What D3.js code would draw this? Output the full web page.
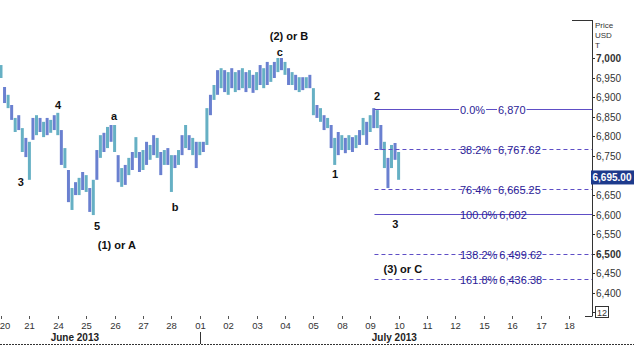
<!DOCTYPE html>
<html>
<head>
<meta charset="utf-8">
<script src="https://cdn.jsdelivr.net/npm/d3@7"></script>
<style>
  body { margin: 0; background: #fff; }
  svg { display: block; font-family: "Liberation Sans", Arial, sans-serif; }
</style>
</head>
<body>
<div id="chart"></div>
<script>
// trading days on the x axis
var dayLabels = ["20","21","24","25","26","27","28","01","02","03","04","05","08","09","10","11","12","15","16","17","18"];
var months = [["June 2013", 2.6], ["July 2013", 13.85]];

// intraday bars, 8 per trading day (high / low)
var barHigh = [6982,6926,6906,6880,6847,6854,6821,6796,6786,6847,6854,6847,6837,6847,6842,6854,
  6860,6816,6770,6714,6668,6683,6694,6709,6701,6668,6689,6765,6803,6809,6824,6829,
  6829,6752,6719,6727,6745,6760,6798,6760,6765,6786,6778,6803,6796,6760,6765,6770,
  6752,6752,6765,6803,6829,6803,6796,6786,6786,6786,6872,6906,6931,6969,6974,6969,
  6964,6974,6964,6969,6974,6964,6969,6957,6964,6982,6974,6990,6982,6990,7000,7000,
  6990,6974,6964,6957,6951,6951,6951,6957,6923,6880,6872,6854,6847,6829,6796,6811,
  6803,6796,6803,6798,6803,6816,6847,6837,6854,6872,6867,6829,6786,6745,6778,6783,6760];
var barLow = [6949,6885,6872,6842,6811,6816,6760,6747,6689,6791,6803,6811,6798,6803,6809,6816,
  6803,6727,6719,6632,6612,6650,6650,6663,6658,6607,6599,6689,6745,6760,6770,6786,
  6760,6683,6671,6676,6701,6714,6745,6709,6714,6727,6740,6752,6745,6701,6727,6727,
  6658,6719,6727,6752,6770,6765,6752,6719,6752,6760,6778,6854,6893,6906,6923,6913,
  6906,6923,6913,6918,6923,6913,6923,6911,6918,6931,6923,6931,6939,6949,6964,6969,
  6957,6931,6931,6918,6913,6918,6923,6923,6854,6847,6837,6816,6821,6770,6727,6752,
  6765,6757,6765,6760,6770,6778,6803,6778,6811,6821,6821,6765,6719,6668,6719,6740,6689];
var lastPrice = 6695.00;

// fibonacci levels
var fibPct = ["0.0%","38.2%","76.4%","100.0%","138.2%","161.8%"];
var fibVal = [6870, 6767.62, 6665.25, 6602, 6499.62, 6436.38];
var fibSolid = [true, false, false, true, false, false];

// elliott wave labels: text, day position, price position
var waveLabels = [["3",0.70,6683],["4",2.01,6879],["5",3.38,6571],["(1) or A",4.08,6523],
  ["a",3.98,6851],["b",6.13,6619],["c",9.82,7015],["(2) or B",10.14,7055],
  ["1",11.76,6703],["2",13.24,6903],["3",13.88,6576],["(3) or C",14.15,6461]];

// 6,700 sits under the last price box
var yTicks = d3.range(6400, 7001, 50).filter(v => v !== 6700);

var W = 634, H = 345;
var svg = d3.select("#chart").append("svg").attr("width", W).attr("height", H);

var x = d3.scaleLinear().domain([0, 20]).range([1, 569]);
var y = d3.scaleLinear().domain([6400, 7000]).range([293, 58]);
var axisX = 592;
var purple = "#5e4ec6";
var fibText = "#2c1c96";

// bars
svg.append("g").selectAll("line.bar")
  .data(barHigh)
  .join("line")
  .attr("class", "bar")
  .attr("x1", (d, i) => x(i / 8)).attr("x2", (d, i) => x(i / 8))
  .attr("y1", d => y(d)).attr("y2", (d, i) => y(barLow[i]))
  .attr("stroke", (d, i) => i % 2 ? "#6a80d0" : "#66b0c4")
  .attr("stroke-width", 3);

// fib lines
var fx0 = x(13.15);
var fib = svg.append("g");
fibVal.forEach(function (v, i) {
  var yy = Math.round(y(v)) + 0.5;
  fib.append("line")
    .attr("x1", fx0).attr("x2", axisX).attr("y1", yy).attr("y2", yy)
    .attr("stroke", purple).attr("stroke-width", 1)
    .attr("stroke-dasharray", fibSolid[i] ? null : "4,3");
  var t1 = fib.append("text").attr("x", 460).attr("y", yy + 4)
    .attr("font-size", 11).attr("fill", fibText).text(fibPct[i]);
  var w1 = t1.node().getComputedTextLength();
  var vx = Math.max(498, 460 + w1 + 2);
  var t2 = fib.append("text").attr("x", vx).attr("y", yy + 4)
    .attr("font-size", 11).attr("fill", fibText).text(d3.format(",")(v));
  var w2 = t2.node().getComputedTextLength();
  fib.insert("rect", "text").attr("x", 459).attr("y", yy - 5).attr("width", w1 + 2).attr("height", 10).attr("fill", "#fff");
  fib.insert("rect", "text").attr("x", vx - 1).attr("y", yy - 5).attr("width", w2 + 2).attr("height", 10).attr("fill", "#fff");
});

// wave labels
svg.append("g").selectAll("text")
  .data(waveLabels)
  .join("text")
  .attr("x", d => x(d[1])).attr("y", d => y(d[2]) + 4)
  .attr("text-anchor", "middle")
  .attr("font-size", 11).attr("font-weight", "bold").attr("fill", "#111")
  .text(d => d[0]);

// right axis
var ax = svg.append("g");
ax.append("line").attr("x1", axisX + 0.5).attr("x2", axisX + 0.5).attr("y1", 20).attr("y2", 316).attr("stroke", "#333");
ax.append("line").attr("x1", 572).attr("x2", axisX + 0.5).attr("y1", 20.5).attr("y2", 20.5).attr("stroke", "#333");
ax.append("line").attr("x1", 585).attr("x2", axisX + 0.5).attr("y1", 316.5).attr("y2", 316.5).attr("stroke", "#333");
["Price", "USD", "T"].forEach(function (s, i) {
  ax.append("text").attr("x", 595).attr("y", 28 + i * 10).attr("font-size", 8).attr("fill", "#333").text(s);
});
yTicks.forEach(function (v) {
  var yy = Math.round(y(v)) + 0.5;
  ax.append("line").attr("x1", axisX).attr("x2", axisX + 3).attr("y1", yy).attr("y2", yy).attr("stroke", "#333");
  ax.append("text").attr("x", 596).attr("y", yy + 3.5).attr("font-size", 10)
    .attr("font-weight", v % 500 === 0 ? "bold" : null)
    .attr("fill", "#333").text(d3.format(",")(v));
});
ax.append("line").attr("x1", axisX).attr("x2", axisX + 3).attr("y1", 312.5).attr("y2", 312.5).attr("stroke", "#333");
ax.append("rect").attr("x", 595.5).attr("y", 306.5).attr("width", 13).attr("height", 11).attr("fill", "#fff").attr("stroke", "#333");
ax.append("text").attr("x", 602).attr("y", 315.5).attr("font-size", 9).attr("text-anchor", "middle").attr("fill", "#333").text("12");

// last price box
var ly = y(lastPrice);
ax.append("rect").attr("x", 591).attr("y", ly - 7).attr("width", 43).attr("height", 14).attr("fill", "#1d3a8c");
ax.append("text").attr("x", 612).attr("y", ly + 4).attr("text-anchor", "middle")
  .attr("font-size", 10).attr("font-weight", "bold").attr("fill", "#fff").text(d3.format(",.2f")(lastPrice));

// bottom axis
var bx = svg.append("g");
dayLabels.forEach(function (s, i) {
  var xx = Math.round(x(i)) + 0.5;
  bx.append("line").attr("x1", xx).attr("x2", xx).attr("y1", 316).attr("y2", 319).attr("stroke", "#555");
  bx.append("text").attr("x", Math.max(xx, 5)).attr("y", 329).attr("text-anchor", "middle")
    .attr("font-size", 9.5).attr("fill", "#333").text(s);
});
months.forEach(function (m) {
  bx.append("text").attr("x", x(m[1])).attr("y", 341).attr("text-anchor", "middle")
    .attr("font-size", 10).attr("font-weight", "bold").attr("fill", "#222").text(m[0]);
});
bx.append("line").attr("x1", Math.round(x(7)) + 0.5).attr("x2", Math.round(x(7)) + 0.5)
  .attr("y1", 332).attr("y2", 344).attr("stroke", "#333");
bx.append("line").attr("x1", 0).attr("x2", W).attr("y1", 344.5).attr("y2", 344.5)
  .attr("stroke", "#333").attr("stroke-dasharray", "2,1");
</script>
</body>
</html>
